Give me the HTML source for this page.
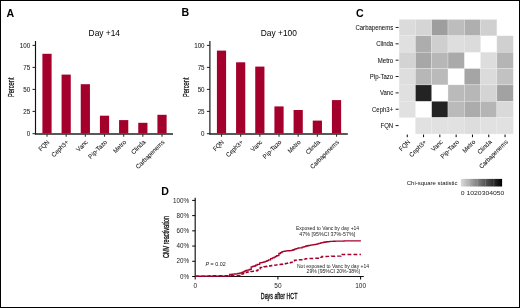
<!DOCTYPE html>
<html><head><meta charset="utf-8"><style>
html,body{margin:0;padding:0;background:#fff;}
body{width:520px;height:308px;overflow:hidden;}
svg{display:block;font-family:"Liberation Sans", sans-serif;will-change:transform;}
</style></head><body>
<svg width="520" height="308" viewBox="0 0 520 308">
<rect x="0" y="0" width="520" height="308" fill="#fff"/>
<text x="6.6" y="16.6" font-size="10.6" font-weight="bold" fill="#000">A</text>
<text x="88.6" y="36.3" font-size="8.4" fill="#000">Day +14</text>
<line x1="35.5" y1="41.0" x2="35.5" y2="134.54999999999998" stroke="#111" stroke-width="1.15"/>
<line x1="35.0" y1="133.95" x2="173.0" y2="133.95" stroke="#222" stroke-width="1.35"/>
<line x1="32.5" y1="133.70000000000002" x2="35.5" y2="133.70000000000002" stroke="#222" stroke-width="1"/>
<text x="0" y="0" font-size="6.4" text-anchor="end" fill="#1a1a1a" transform="translate(30.2,136.3) scale(0.97875,1)" stroke="#111" stroke-width="0.05">0</text>
<line x1="32.5" y1="111.4" x2="35.5" y2="111.4" stroke="#222" stroke-width="1"/>
<text x="0" y="0" font-size="6.4" text-anchor="end" fill="#1a1a1a" transform="translate(30.2,114.0) scale(0.97875,1)" stroke="#111" stroke-width="0.05">25</text>
<line x1="32.5" y1="89.4" x2="35.5" y2="89.4" stroke="#222" stroke-width="1"/>
<text x="0" y="0" font-size="6.4" text-anchor="end" fill="#1a1a1a" transform="translate(30.2,92.0) scale(0.97875,1)" stroke="#111" stroke-width="0.05">50</text>
<line x1="32.5" y1="67.4" x2="35.5" y2="67.4" stroke="#222" stroke-width="1"/>
<text x="0" y="0" font-size="6.4" text-anchor="end" fill="#1a1a1a" transform="translate(30.2,70.0) scale(0.97875,1)" stroke="#111" stroke-width="0.05">75</text>
<line x1="32.5" y1="45.400000000000006" x2="35.5" y2="45.400000000000006" stroke="#222" stroke-width="1"/>
<text x="0" y="0" font-size="6.4" text-anchor="end" fill="#1a1a1a" transform="translate(30.2,48.00000000000001) scale(0.97875,1)" stroke="#111" stroke-width="0.05">100</text>
<text x="0" y="0" font-size="8.3" text-anchor="middle" fill="#111" stroke="#111" stroke-width="0.25" textLength="19.5" lengthAdjust="spacingAndGlyphs" transform="translate(13.9,87.3) rotate(-90)">Percent</text>
<rect x="42.4" y="53.8" width="9.2" height="79.60000000000001" fill="#a4002c"/>
<line x1="47.0" y1="133.95" x2="47.0" y2="136.75" stroke="#333" stroke-width="1.1"/>
<text x="0" y="0" font-size="6.4" text-anchor="end" fill="#111" transform="translate(49.9,142.6) rotate(-45) scale(0.9406249999999999,1)" stroke="#111" stroke-width="0.05">FQN</text>
<rect x="61.57" y="74.6" width="9.2" height="58.80000000000001" fill="#a4002c"/>
<line x1="66.17" y1="133.95" x2="66.17" y2="136.75" stroke="#333" stroke-width="1.1"/>
<text x="0" y="0" font-size="6.4" text-anchor="end" fill="#111" transform="translate(69.07000000000001,142.6) rotate(-45) scale(0.9406249999999999,1)" stroke="#111" stroke-width="0.05">Ceph3+</text>
<rect x="80.74000000000001" y="84.2" width="9.2" height="49.2" fill="#a4002c"/>
<line x1="85.34" y1="133.95" x2="85.34" y2="136.75" stroke="#333" stroke-width="1.1"/>
<text x="0" y="0" font-size="6.4" text-anchor="end" fill="#111" transform="translate(88.24000000000001,142.6) rotate(-45) scale(0.9406249999999999,1)" stroke="#111" stroke-width="0.05">Vanc</text>
<rect x="99.91" y="115.7" width="9.2" height="17.700000000000003" fill="#a4002c"/>
<line x1="104.50999999999999" y1="133.95" x2="104.50999999999999" y2="136.75" stroke="#333" stroke-width="1.1"/>
<text x="0" y="0" font-size="6.4" text-anchor="end" fill="#111" transform="translate(107.41,142.6) rotate(-45) scale(0.9406249999999999,1)" stroke="#111" stroke-width="0.05">Pip-Tazo</text>
<rect x="119.08000000000001" y="120.1" width="9.2" height="13.300000000000011" fill="#a4002c"/>
<line x1="123.68" y1="133.95" x2="123.68" y2="136.75" stroke="#333" stroke-width="1.1"/>
<text x="0" y="0" font-size="6.4" text-anchor="end" fill="#111" transform="translate(126.58000000000001,142.6) rotate(-45) scale(0.9406249999999999,1)" stroke="#111" stroke-width="0.05">Metro</text>
<rect x="138.25" y="122.8" width="9.2" height="10.600000000000009" fill="#a4002c"/>
<line x1="142.85" y1="133.95" x2="142.85" y2="136.75" stroke="#333" stroke-width="1.1"/>
<text x="0" y="0" font-size="6.4" text-anchor="end" fill="#111" transform="translate(145.75,142.6) rotate(-45) scale(0.9406249999999999,1)" stroke="#111" stroke-width="0.05">Clinda</text>
<rect x="157.42000000000002" y="114.8" width="9.2" height="18.60000000000001" fill="#a4002c"/>
<line x1="162.02" y1="133.95" x2="162.02" y2="136.75" stroke="#333" stroke-width="1.1"/>
<text x="0" y="0" font-size="6.4" text-anchor="end" fill="#111" transform="translate(164.92000000000002,142.6) rotate(-45) scale(0.9406249999999999,1)" stroke="#111" stroke-width="0.05">Carbapenems</text>
<text x="181.6" y="16.2" font-size="10.6" font-weight="bold" fill="#000">B</text>
<text x="260.8" y="36.3" font-size="8.4" fill="#000">Day +100</text>
<line x1="209.9" y1="41.0" x2="209.9" y2="134.54999999999998" stroke="#111" stroke-width="1.15"/>
<line x1="209.4" y1="133.95" x2="347.8" y2="133.95" stroke="#222" stroke-width="1.35"/>
<line x1="206.9" y1="133.70000000000002" x2="209.9" y2="133.70000000000002" stroke="#222" stroke-width="1"/>
<text x="0" y="0" font-size="6.4" text-anchor="end" fill="#1a1a1a" transform="translate(204.6,136.3) scale(0.97875,1)" stroke="#111" stroke-width="0.05">0</text>
<line x1="206.9" y1="111.4" x2="209.9" y2="111.4" stroke="#222" stroke-width="1"/>
<text x="0" y="0" font-size="6.4" text-anchor="end" fill="#1a1a1a" transform="translate(204.6,114.0) scale(0.97875,1)" stroke="#111" stroke-width="0.05">25</text>
<line x1="206.9" y1="89.4" x2="209.9" y2="89.4" stroke="#222" stroke-width="1"/>
<text x="0" y="0" font-size="6.4" text-anchor="end" fill="#1a1a1a" transform="translate(204.6,92.0) scale(0.97875,1)" stroke="#111" stroke-width="0.05">50</text>
<line x1="206.9" y1="67.4" x2="209.9" y2="67.4" stroke="#222" stroke-width="1"/>
<text x="0" y="0" font-size="6.4" text-anchor="end" fill="#1a1a1a" transform="translate(204.6,70.0) scale(0.97875,1)" stroke="#111" stroke-width="0.05">75</text>
<line x1="206.9" y1="45.400000000000006" x2="209.9" y2="45.400000000000006" stroke="#222" stroke-width="1"/>
<text x="0" y="0" font-size="6.4" text-anchor="end" fill="#1a1a1a" transform="translate(204.6,48.00000000000001) scale(0.97875,1)" stroke="#111" stroke-width="0.05">100</text>
<text x="0" y="0" font-size="8.3" text-anchor="middle" fill="#111" stroke="#111" stroke-width="0.25" textLength="19.5" lengthAdjust="spacingAndGlyphs" transform="translate(188.6,87.3) rotate(-90)">Percent</text>
<rect x="216.9" y="50.6" width="9.2" height="82.80000000000001" fill="#a4002c"/>
<line x1="221.5" y1="133.95" x2="221.5" y2="136.75" stroke="#333" stroke-width="1.1"/>
<text x="0" y="0" font-size="6.4" text-anchor="end" fill="#111" transform="translate(224.4,142.6) rotate(-45) scale(0.9406249999999999,1)" stroke="#111" stroke-width="0.05">FQN</text>
<rect x="236.07" y="62.3" width="9.2" height="71.10000000000001" fill="#a4002c"/>
<line x1="240.67" y1="133.95" x2="240.67" y2="136.75" stroke="#333" stroke-width="1.1"/>
<text x="0" y="0" font-size="6.4" text-anchor="end" fill="#111" transform="translate(243.57,142.6) rotate(-45) scale(0.9406249999999999,1)" stroke="#111" stroke-width="0.05">Ceph3+</text>
<rect x="255.24" y="66.6" width="9.2" height="66.80000000000001" fill="#a4002c"/>
<line x1="259.84000000000003" y1="133.95" x2="259.84000000000003" y2="136.75" stroke="#333" stroke-width="1.1"/>
<text x="0" y="0" font-size="6.4" text-anchor="end" fill="#111" transform="translate(262.74,142.6) rotate(-45) scale(0.9406249999999999,1)" stroke="#111" stroke-width="0.05">Vanc</text>
<rect x="274.41" y="106.4" width="9.2" height="27.0" fill="#a4002c"/>
<line x1="279.01000000000005" y1="133.95" x2="279.01000000000005" y2="136.75" stroke="#333" stroke-width="1.1"/>
<text x="0" y="0" font-size="6.4" text-anchor="end" fill="#111" transform="translate(281.91,142.6) rotate(-45) scale(0.9406249999999999,1)" stroke="#111" stroke-width="0.05">Pip-Tazo</text>
<rect x="293.58000000000004" y="110.0" width="9.2" height="23.400000000000006" fill="#a4002c"/>
<line x1="298.18000000000006" y1="133.95" x2="298.18000000000006" y2="136.75" stroke="#333" stroke-width="1.1"/>
<text x="0" y="0" font-size="6.4" text-anchor="end" fill="#111" transform="translate(301.08000000000004,142.6) rotate(-45) scale(0.9406249999999999,1)" stroke="#111" stroke-width="0.05">Metro</text>
<rect x="312.75" y="120.6" width="9.2" height="12.800000000000011" fill="#a4002c"/>
<line x1="317.35" y1="133.95" x2="317.35" y2="136.75" stroke="#333" stroke-width="1.1"/>
<text x="0" y="0" font-size="6.4" text-anchor="end" fill="#111" transform="translate(320.25,142.6) rotate(-45) scale(0.9406249999999999,1)" stroke="#111" stroke-width="0.05">Clinda</text>
<rect x="331.92" y="100.1" width="9.2" height="33.30000000000001" fill="#a4002c"/>
<line x1="336.52000000000004" y1="133.95" x2="336.52000000000004" y2="136.75" stroke="#333" stroke-width="1.1"/>
<text x="0" y="0" font-size="6.4" text-anchor="end" fill="#111" transform="translate(339.42,142.6) rotate(-45) scale(0.9406249999999999,1)" stroke="#111" stroke-width="0.05">Carbapenems</text>
<text x="356.0" y="16.6" font-size="10.6" font-weight="bold" fill="#000">C</text>
<rect x="399.10" y="19.50" width="16.30" height="16.35" fill="#dbdbdb" stroke="#eeeeee" stroke-width="0.35"/>
<rect x="415.40" y="19.50" width="16.30" height="16.35" fill="#d5d5d5" stroke="#eeeeee" stroke-width="0.35"/>
<rect x="431.70" y="19.50" width="16.30" height="16.35" fill="#9e9e9e" stroke="#eeeeee" stroke-width="0.35"/>
<rect x="448.00" y="19.50" width="16.30" height="16.35" fill="#bdbdbd" stroke="#eeeeee" stroke-width="0.35"/>
<rect x="464.30" y="19.50" width="16.30" height="16.35" fill="#afafaf" stroke="#eeeeee" stroke-width="0.35"/>
<rect x="480.60" y="19.50" width="16.30" height="16.35" fill="#d0d0d0" stroke="#eeeeee" stroke-width="0.35"/>
<line x1="395.6" y1="27.475" x2="398.6" y2="27.475" stroke="#222" stroke-width="1"/>
<text x="0" y="0" font-size="6.4" text-anchor="end" fill="#111" transform="translate(393.2,29.875) scale(0.9406249999999999,1)" stroke="#111" stroke-width="0.05">Carbapenems</text>
<rect x="399.10" y="35.85" width="16.30" height="16.35" fill="#e0e0e0" stroke="#eeeeee" stroke-width="0.35"/>
<rect x="415.40" y="35.85" width="16.30" height="16.35" fill="#adadad" stroke="#eeeeee" stroke-width="0.35"/>
<rect x="431.70" y="35.85" width="16.30" height="16.35" fill="#cfcfcf" stroke="#eeeeee" stroke-width="0.35"/>
<rect x="448.00" y="35.85" width="16.30" height="16.35" fill="#dedede" stroke="#eeeeee" stroke-width="0.35"/>
<rect x="464.30" y="35.85" width="16.30" height="16.35" fill="#dbdbdb" stroke="#eeeeee" stroke-width="0.35"/>
<rect x="496.90" y="35.85" width="16.30" height="16.35" fill="#d0d0d0" stroke="#eeeeee" stroke-width="0.35"/>
<line x1="395.6" y1="43.825" x2="398.6" y2="43.825" stroke="#222" stroke-width="1"/>
<text x="0" y="0" font-size="6.4" text-anchor="end" fill="#111" transform="translate(393.2,46.225) scale(0.9406249999999999,1)" stroke="#111" stroke-width="0.05">Clinda</text>
<rect x="399.10" y="52.20" width="16.30" height="16.35" fill="#d3d3d3" stroke="#eeeeee" stroke-width="0.35"/>
<rect x="415.40" y="52.20" width="16.30" height="16.35" fill="#a7a7a7" stroke="#eeeeee" stroke-width="0.35"/>
<rect x="431.70" y="52.20" width="16.30" height="16.35" fill="#b7b7b7" stroke="#eeeeee" stroke-width="0.35"/>
<rect x="448.00" y="52.20" width="16.30" height="16.35" fill="#aaaaaa" stroke="#eeeeee" stroke-width="0.35"/>
<rect x="480.60" y="52.20" width="16.30" height="16.35" fill="#dddddd" stroke="#eeeeee" stroke-width="0.35"/>
<rect x="496.90" y="52.20" width="16.30" height="16.35" fill="#b5b5b5" stroke="#eeeeee" stroke-width="0.35"/>
<line x1="395.6" y1="60.175" x2="398.6" y2="60.175" stroke="#222" stroke-width="1"/>
<text x="0" y="0" font-size="6.4" text-anchor="end" fill="#111" transform="translate(393.2,62.574999999999996) scale(0.9406249999999999,1)" stroke="#111" stroke-width="0.05">Metro</text>
<rect x="399.10" y="68.55" width="16.30" height="16.35" fill="#dedede" stroke="#eeeeee" stroke-width="0.35"/>
<rect x="415.40" y="68.55" width="16.30" height="16.35" fill="#b7b7b7" stroke="#eeeeee" stroke-width="0.35"/>
<rect x="431.70" y="68.55" width="16.30" height="16.35" fill="#bababa" stroke="#eeeeee" stroke-width="0.35"/>
<rect x="464.30" y="68.55" width="16.30" height="16.35" fill="#a5a5a5" stroke="#eeeeee" stroke-width="0.35"/>
<rect x="480.60" y="68.55" width="16.30" height="16.35" fill="#dbdbdb" stroke="#eeeeee" stroke-width="0.35"/>
<rect x="496.90" y="68.55" width="16.30" height="16.35" fill="#c2c2c2" stroke="#eeeeee" stroke-width="0.35"/>
<line x1="395.6" y1="76.525" x2="398.6" y2="76.525" stroke="#222" stroke-width="1"/>
<text x="0" y="0" font-size="6.4" text-anchor="end" fill="#111" transform="translate(393.2,78.92500000000001) scale(0.9406249999999999,1)" stroke="#111" stroke-width="0.05">Pip-Tazo</text>
<rect x="399.10" y="84.90" width="16.30" height="16.35" fill="#e0e0e0" stroke="#eeeeee" stroke-width="0.35"/>
<rect x="415.40" y="84.90" width="16.30" height="16.35" fill="#232323" stroke="#eeeeee" stroke-width="0.35"/>
<rect x="448.00" y="84.90" width="16.30" height="16.35" fill="#bababa" stroke="#eeeeee" stroke-width="0.35"/>
<rect x="464.30" y="84.90" width="16.30" height="16.35" fill="#b7b7b7" stroke="#eeeeee" stroke-width="0.35"/>
<rect x="480.60" y="84.90" width="16.30" height="16.35" fill="#d4d4d4" stroke="#eeeeee" stroke-width="0.35"/>
<rect x="496.90" y="84.90" width="16.30" height="16.35" fill="#a2a2a2" stroke="#eeeeee" stroke-width="0.35"/>
<line x1="395.6" y1="92.875" x2="398.6" y2="92.875" stroke="#222" stroke-width="1"/>
<text x="0" y="0" font-size="6.4" text-anchor="end" fill="#111" transform="translate(393.2,95.275) scale(0.9406249999999999,1)" stroke="#111" stroke-width="0.05">Vanc</text>
<rect x="399.10" y="101.25" width="16.30" height="16.35" fill="#e1e1e1" stroke="#eeeeee" stroke-width="0.35"/>
<rect x="431.70" y="101.25" width="16.30" height="16.35" fill="#232323" stroke="#eeeeee" stroke-width="0.35"/>
<rect x="448.00" y="101.25" width="16.30" height="16.35" fill="#bababa" stroke="#eeeeee" stroke-width="0.35"/>
<rect x="464.30" y="101.25" width="16.30" height="16.35" fill="#acacac" stroke="#eeeeee" stroke-width="0.35"/>
<rect x="480.60" y="101.25" width="16.30" height="16.35" fill="#b5b5b5" stroke="#eeeeee" stroke-width="0.35"/>
<rect x="496.90" y="101.25" width="16.30" height="16.35" fill="#d9d9d9" stroke="#eeeeee" stroke-width="0.35"/>
<line x1="395.6" y1="109.225" x2="398.6" y2="109.225" stroke="#222" stroke-width="1"/>
<text x="0" y="0" font-size="6.4" text-anchor="end" fill="#111" transform="translate(393.2,111.625) scale(0.9406249999999999,1)" stroke="#111" stroke-width="0.05">Ceph3+</text>
<rect x="415.40" y="117.60" width="16.30" height="16.35" fill="#e1e1e1" stroke="#eeeeee" stroke-width="0.35"/>
<rect x="431.70" y="117.60" width="16.30" height="16.35" fill="#e1e1e1" stroke="#eeeeee" stroke-width="0.35"/>
<rect x="448.00" y="117.60" width="16.30" height="16.35" fill="#e1e1e1" stroke="#eeeeee" stroke-width="0.35"/>
<rect x="464.30" y="117.60" width="16.30" height="16.35" fill="#dddddd" stroke="#eeeeee" stroke-width="0.35"/>
<rect x="480.60" y="117.60" width="16.30" height="16.35" fill="#e1e1e1" stroke="#eeeeee" stroke-width="0.35"/>
<rect x="496.90" y="117.60" width="16.30" height="16.35" fill="#e1e1e1" stroke="#eeeeee" stroke-width="0.35"/>
<line x1="395.6" y1="125.575" x2="398.6" y2="125.575" stroke="#222" stroke-width="1"/>
<text x="0" y="0" font-size="6.4" text-anchor="end" fill="#111" transform="translate(393.2,127.97500000000001) scale(0.9406249999999999,1)" stroke="#111" stroke-width="0.05">FQN</text>
<line x1="407.25" y1="134.6" x2="407.25" y2="137.2" stroke="#000" stroke-width="1"/>
<text x="0" y="0" font-size="6.4" text-anchor="end" fill="#111" transform="translate(410.55,142.4) rotate(-45) scale(0.9406249999999999,1)" stroke="#111" stroke-width="0.05">FQN</text>
<line x1="423.55" y1="134.6" x2="423.55" y2="137.2" stroke="#000" stroke-width="1"/>
<text x="0" y="0" font-size="6.4" text-anchor="end" fill="#111" transform="translate(426.85,142.4) rotate(-45) scale(0.9406249999999999,1)" stroke="#111" stroke-width="0.05">Ceph3+</text>
<line x1="439.85" y1="134.6" x2="439.85" y2="137.2" stroke="#000" stroke-width="1"/>
<text x="0" y="0" font-size="6.4" text-anchor="end" fill="#111" transform="translate(443.15000000000003,142.4) rotate(-45) scale(0.9406249999999999,1)" stroke="#111" stroke-width="0.05">Vanc</text>
<line x1="456.15" y1="134.6" x2="456.15" y2="137.2" stroke="#000" stroke-width="1"/>
<text x="0" y="0" font-size="6.4" text-anchor="end" fill="#111" transform="translate(459.45,142.4) rotate(-45) scale(0.9406249999999999,1)" stroke="#111" stroke-width="0.05">Pip-Tazo</text>
<line x1="472.45" y1="134.6" x2="472.45" y2="137.2" stroke="#000" stroke-width="1"/>
<text x="0" y="0" font-size="6.4" text-anchor="end" fill="#111" transform="translate(475.75,142.4) rotate(-45) scale(0.9406249999999999,1)" stroke="#111" stroke-width="0.05">Metro</text>
<line x1="488.75" y1="134.6" x2="488.75" y2="137.2" stroke="#000" stroke-width="1"/>
<text x="0" y="0" font-size="6.4" text-anchor="end" fill="#111" transform="translate(492.05,142.4) rotate(-45) scale(0.9406249999999999,1)" stroke="#111" stroke-width="0.05">Clinda</text>
<line x1="505.05" y1="134.6" x2="505.05" y2="137.2" stroke="#000" stroke-width="1"/>
<text x="0" y="0" font-size="6.4" text-anchor="end" fill="#111" transform="translate(508.35,142.4) rotate(-45) scale(0.9406249999999999,1)" stroke="#111" stroke-width="0.05">Carbapenems</text>
<text x="457.4" y="184.7" font-size="6.0" text-anchor="end" textLength="50.6" lengthAdjust="spacingAndGlyphs" fill="#111">Chi-square statistic</text>
<defs><linearGradient id="g" gradientUnits="userSpaceOnUse" x1="460.8" x2="502.1" y1="0" y2="0"><stop offset="0" stop-color="#dcdcdc"/><stop offset="0.5" stop-color="#6a6a6a"/><stop offset="1" stop-color="#000"/></linearGradient></defs>
<rect x="460.8" y="178.9" width="41.3" height="7.6" fill="url(#g)"/>
<line x1="469.06" y1="178.9" x2="469.06" y2="186.5" stroke="#e8e8e8" stroke-width="0.35" stroke-opacity="0.5"/>
<line x1="477.32" y1="178.9" x2="477.32" y2="186.5" stroke="#e8e8e8" stroke-width="0.35" stroke-opacity="0.5"/>
<line x1="485.58" y1="178.9" x2="485.58" y2="186.5" stroke="#e8e8e8" stroke-width="0.35" stroke-opacity="0.5"/>
<line x1="493.84000000000003" y1="178.9" x2="493.84000000000003" y2="186.5" stroke="#e8e8e8" stroke-width="0.35" stroke-opacity="0.5"/>
<text x="460.8" y="195.0" font-size="5.9" textLength="43.6" lengthAdjust="spacingAndGlyphs" fill="#222">0 1020304050</text>
<text x="161.3" y="194.6" font-size="10.6" font-weight="bold" fill="#000">D</text>
<line x1="195.2" y1="197.8" x2="195.2" y2="277.0" stroke="#1a1a1a" stroke-width="1.2"/>
<line x1="194.7" y1="276.5" x2="363.8" y2="276.5" stroke="#111" stroke-width="1.2"/>
<line x1="192.2" y1="276.5" x2="195.2" y2="276.5" stroke="#000" stroke-width="1"/>
<text x="189.1" y="278.7" font-size="6.3" text-anchor="end" fill="#222">0%</text>
<line x1="192.2" y1="261.28" x2="195.2" y2="261.28" stroke="#000" stroke-width="1"/>
<text x="189.1" y="263.47999999999996" font-size="6.3" text-anchor="end" fill="#222">20%</text>
<line x1="192.2" y1="246.06" x2="195.2" y2="246.06" stroke="#000" stroke-width="1"/>
<text x="189.1" y="248.26" font-size="6.3" text-anchor="end" fill="#222">40%</text>
<line x1="192.2" y1="230.84" x2="195.2" y2="230.84" stroke="#000" stroke-width="1"/>
<text x="189.1" y="233.04" font-size="6.3" text-anchor="end" fill="#222">60%</text>
<line x1="192.2" y1="215.62" x2="195.2" y2="215.62" stroke="#000" stroke-width="1"/>
<text x="189.1" y="217.82" font-size="6.3" text-anchor="end" fill="#222">80%</text>
<line x1="192.2" y1="200.4" x2="195.2" y2="200.4" stroke="#000" stroke-width="1"/>
<text x="189.1" y="202.6" font-size="6.3" text-anchor="end" fill="#222">100%</text>
<line x1="195.2" y1="276.5" x2="195.2" y2="279.5" stroke="#000" stroke-width="1"/>
<text x="195.2" y="287.6" font-size="6.5" text-anchor="middle" fill="#222">0</text>
<line x1="277.9" y1="276.5" x2="277.9" y2="279.5" stroke="#000" stroke-width="1"/>
<text x="277.9" y="287.6" font-size="6.5" text-anchor="middle" fill="#222">50</text>
<line x1="360.6" y1="276.5" x2="360.6" y2="279.5" stroke="#000" stroke-width="1"/>
<text x="360.6" y="287.6" font-size="6.5" text-anchor="middle" fill="#222">100</text>
<text x="0" y="0" font-size="8.2" text-anchor="middle" fill="#111" stroke="#111" stroke-width="0.32" textLength="36.6" lengthAdjust="spacingAndGlyphs" transform="translate(279.1,298.8)">Days after HCT</text>
<text x="0" y="0" font-size="8.3" text-anchor="middle" fill="#111" stroke="#111" stroke-width="0.32" textLength="42.2" lengthAdjust="spacingAndGlyphs" transform="translate(169.1,237.0) rotate(-90)">CMV reactivation</text>
<text x="205.5" y="265.9" font-size="6.2" fill="#222" textLength="20.2" lengthAdjust="spacingAndGlyphs"><tspan font-style="italic">P</tspan> = 0.02</text>
<text x="327.5" y="230.0" font-size="6.0" text-anchor="middle" textLength="63.2" lengthAdjust="spacingAndGlyphs" fill="#222">Exposed to Vanc by day +14</text>
<text x="327.3" y="236.2" font-size="6.0" text-anchor="middle" textLength="55.9" lengthAdjust="spacingAndGlyphs" fill="#222">47% [95%CI 37%-57%]</text>
<text x="333.0" y="268.0" font-size="6.0" text-anchor="middle" textLength="72.0" lengthAdjust="spacingAndGlyphs" fill="#222">Not exposed to Vanc by day +14</text>
<text x="333.3" y="273.3" font-size="6.0" text-anchor="middle" textLength="53.5" lengthAdjust="spacingAndGlyphs" fill="#222">29% [95%CI 20%-38%]</text>
<path d="M195.2,276.2 L229.7,276.2 L229.7,274.5 H230.95 V274.35 H232.20 V274.20 H234.20 V274.00 H236.20 V273.80 H237.85 V273.50 H239.50 V273.20 H240.70 V272.80 H241.90 V272.40 H243.10 V271.80 H244.30 V271.20 H245.55 V270.70 H246.80 V270.20 H249.20 V269.40 H251.20 V268.00 L251.2,266.8 H252.65 V266.40 H254.10 V266.00 H255.70 V265.15 H257.30 V264.30 H259.70 V262.90 H261.00 V262.60 H262.30 V262.30 H263.85 V261.80 H265.40 V261.30 H266.95 V260.55 H268.50 V259.80 H270.60 V258.70 H272.40 V257.95 H274.20 V257.20 H275.50 V256.40 H276.80 V255.60 H278.90 V253.50 H280.45 V252.55 H282.00 V251.60 H283.40 V251.37 H284.80 V251.13 H286.20 V250.90 H287.93 V250.73 H289.67 V250.57 H291.40 V250.40 H292.95 V249.75 H294.50 V249.10 H296.05 V248.60 H297.60 V248.10 H299.00 V247.95 H300.40 V247.80 H302.20 V247.20 H304.00 V246.60 H305.80 V246.00 H307.37 V245.73 H308.93 V245.47 H310.50 V245.20 H312.07 V244.93 H313.63 V244.67 H315.20 V244.40 H317.00 V243.87 H318.80 V243.33 H320.60 V242.80 H322.07 V242.53 H323.53 V242.27 H325.00 V242.00 H326.67 V241.77 H328.33 V241.53 H330.00 V241.30 H331.69 V241.28 H333.38 V241.25 H335.06 V241.22 H336.75 V241.20 H338.44 V241.18 H340.12 V241.15 H341.81 V241.12 H343.50 V241.10 H344.10 V240.80 L360.9,240.8" fill="none" stroke="#a4002c" stroke-width="1.3"/>
<path d="M195.2,276.2 L209.5,276.2 L209.5,275.6 L238,275.6 H240.00 V274.50 H241.50 V274.00 H243.00 V273.50 H245.00 V272.60 H246.30 V272.30 H247.60 V272.00 H249.20 V271.60 H250.57 V271.47 H251.93 V271.33 H253.30 V271.20 H255.70 V270.80 H257.30 V270.00 H258.10 V268.80 H260.20 V267.50 H262.30 V267.00 H263.85 V266.75 H265.40 V266.50 H266.95 V266.25 H268.50 V266.00 H270.05 V265.75 H271.60 V265.50 H273.18 V265.30 H274.75 V265.10 H276.32 V264.90 H277.90 V264.70 H279.45 V264.45 H281.00 V264.20 H282.55 V263.95 H284.10 V263.70 H285.83 V263.37 H287.57 V263.03 H289.30 V262.70 H290.70 V262.40 H292.10 V262.10 H293.50 V261.80 H294.50 V260.30 H295.90 V260.13 H297.30 V259.97 H298.70 V259.80 H300.17 V259.77 H301.63 V259.73 H303.10 V259.70 H304.45 V259.15 H305.80 V258.60 H307.48 V258.55 H309.15 V258.50 H310.82 V258.45 H312.50 V258.40 H314.18 V258.35 H315.85 V258.30 H317.52 V258.25 H319.20 V258.20 H320.55 V257.35 H321.90 V256.50 H323.49 V256.46 H325.08 V256.43 H326.67 V256.39 H328.26 V256.35 H329.85 V256.32 H331.45 V256.28 H333.04 V256.25 H334.63 V256.21 H336.22 V256.17 H337.81 V256.14 H339.40 V256.10 H340.80 V254.50 L360.9,254.5" fill="none" stroke="#a4002c" stroke-width="1.4" stroke-dasharray="3.8 2.2"/>
<rect x="0.5" y="0.5" width="519" height="307" fill="none" stroke="#000" stroke-width="1"/>
</svg>
</body></html>
